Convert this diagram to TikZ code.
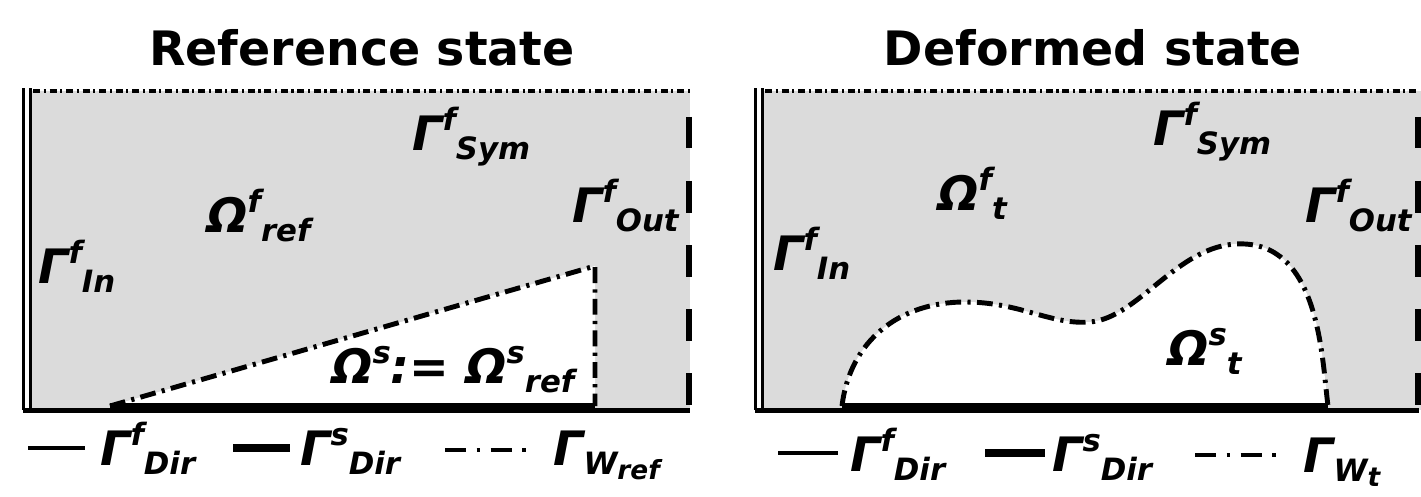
\documentclass[tikz,border=0pt]{standalone}
\usepackage{fontspec}
\setmainfont{DejaVu Sans}
\usetikzlibrary{positioning}
\definecolor{fluidgray}{gray}{0.86}
\newcommand{\lblfont}{\bfseries\itshape\fontsize{27}{32}\selectfont}
\newcommand{\subsz}{\fontsize{17.5}{20}\selectfont}
\newcommand{\subsubsz}{\fontsize{15}{18}\selectfont}
% symbol with superscript, then subscript after it
\newcommand{\bsym}[3]{#1\raisebox{0.42em}{\subsz #2}\raisebox{-0.2em}{\subsz #3}}
\tikzset{
  fluid/.style   = {fill=fluidgray},
  inwall/.style  = {double, line width=1.4pt, double distance=2.4pt},
  symwall/.style = {line width=2.4pt, dash pattern=on 4pt off 2.1pt on 1.2pt off 2.1pt},
  outwall/.style = {line width=3pt, dash pattern=on 18pt off 18.5pt, dash phase=21.8pt},
  fsiwall/.style = {line width=2.8pt, dash pattern=on 9pt off 3.6pt on 1.8pt off 3.6pt},
  legfsi/.style  = {line width=2.6pt, dash pattern=on 12pt off 6pt on 2pt off 6pt},
  dirf/.style    = {line width=2.3pt},
  dirs/.style    = {line width=5pt},
  lbl/.style     = {font=\lblfont, inner sep=0pt, anchor=base west},
  title/.style   = {font=\bfseries\fontsize{27}{32}\selectfont, inner sep=0pt},
}
\begin{document}
\begin{tikzpicture}[x=0.02cm,y=-0.02cm]
  \useasboundingbox (0,0) rectangle (1421,497);
  % reference state
  \fill[fluid] (23,91) rectangle (690,410);
  \fill[white] (110,406) -- (595,266) -- (595,406) -- cycle;
  \draw[fsiwall] (110,406) -- (595,266) -- (595,406);
  \draw[symwall] (33,91) -- (690,91);
  \draw[outwall] (689,91) -- (689,410);
  \draw[inwall] (27,88) -- (27,410);
  \draw[dirf] (23,410.5) -- (690,410.5);
  \draw[dirs] (110,407) -- (595,407);
  \node[title] (reftitle) at (362,48) {Reference state};
  \node[lbl] (refin)  at (38,283)  {\bsym{Γ}{f}{In}};
  \node[lbl] (refomf) at (207,232) {\bsym{Ω}{f}{ref}};
  \node[lbl] (refsym) at (412,150) {\bsym{Γ}{f}{Sym}};
  \node[lbl] (refout) at (572,222) {\bsym{Γ}{f}{Out}};
  \node[lbl] (refoms) at (332,383) {Ω\raisebox{0.42em}{\subsz s}:= \bsym{Ω}{s}{ref}};
  % legend, reference state
  \draw[dirf] (28,448) -- (85,448);
  \node[lbl] (reflegf) at (100,465) {\bsym{Γ}{f}{Dir}};
  \draw[dirs] (233,448) -- (290,448);
  \node[lbl] (reflegs) at (300,465) {\bsym{Γ}{s}{Dir}};
  \draw[legfsi] (445,450) -- (530,450);
  \node[lbl] (reflegw) at (553,465) {Γ\raisebox{-0.2em}{\subsz W\raisebox{-0.15em}{\subsubsz ref}}};
  % deformed state
  \fill[fluid] (755,91) rectangle (1421,410);
  \fill[white] (842,406) .. controls (850,340) and (900,302) .. (965,302)
    .. controls (1020,302) and (1050,325) .. (1090,322)
    .. controls (1140,318) and (1180,240) .. (1245,244)
    .. controls (1320,248) and (1322,360) .. (1328,406) -- cycle;
  \draw[fsiwall] (842,406) .. controls (850,340) and (900,302) .. (965,302)
    .. controls (1020,302) and (1050,325) .. (1090,322)
    .. controls (1140,318) and (1180,240) .. (1245,244)
    .. controls (1320,248) and (1322,360) .. (1328,406);
  \draw[symwall] (765,91) -- (1419,91);
  \draw[outwall] (1418,91) -- (1418,410);
  \draw[inwall] (759,88) -- (759,410);
  \draw[dirf] (755,410.5) -- (1419,410.5);
  \draw[dirs] (842,407) -- (1328,407);
  \node[title] (deftitle) at (1093,48) {Deformed state};
  \node[lbl] (defin)  at (773,270)  {\bsym{Γ}{f}{In}};
  \node[lbl] (defomf) at (938,210)  {\bsym{Ω}{f}{t}};
  \node[lbl] (defsym) at (1153,145) {\bsym{Γ}{f}{Sym}};
  \node[lbl] (defout) at (1305,222) {\bsym{Γ}{f}{Out}};
  \node[lbl] (defoms) at (1168,365) {\bsym{Ω}{s}{t}};
  % legend, deformed state
  \draw[dirf] (778,453) -- (838,453);
  \node[lbl] (deflegf) at (850,471) {\bsym{Γ}{f}{Dir}};
  \draw[dirs] (985,453) -- (1045,453);
  \node[lbl] (deflegs) at (1052,471) {\bsym{Γ}{s}{Dir}};
  \draw[legfsi] (1195,455) -- (1285,455);
  \node[lbl] (deflegw) at (1303,472) {Γ\raisebox{-0.2em}{\subsz W\raisebox{-0.15em}{\subsubsz t}}};
\end{tikzpicture}
\end{document}
